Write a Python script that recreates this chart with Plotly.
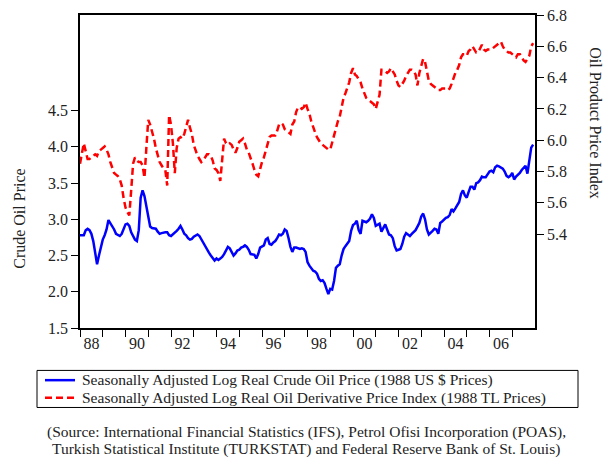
import plotly.graph_objects as go

# Monthly observations, January 1988 to December 2007
start_year = 1988
n_years = 20

crude_oil = [
    # 1988
    2.78, 2.78, 2.78, 2.85, 2.87, 2.85, 2.80, 2.70, 2.55, 2.38, 2.50, 2.63,
    # 1989
    2.72, 2.78, 2.86, 2.99, 2.95, 2.90, 2.86, 2.80, 2.78, 2.77, 2.80, 2.86,
    # 1990
    2.93, 2.94, 2.91, 2.82, 2.77, 2.72, 2.70, 2.85, 3.30, 3.40, 3.32, 3.18,
    # 1991
    3.05, 2.90, 2.88, 2.88, 2.87, 2.83, 2.80, 2.81, 2.82, 2.82, 2.82, 2.78,
    # 1992
    2.77, 2.79, 2.81, 2.84, 2.87, 2.91, 2.86, 2.80, 2.78, 2.74, 2.72, 2.73,
    # 1993
    2.76, 2.78, 2.79, 2.77, 2.72, 2.68, 2.63, 2.58, 2.54, 2.50, 2.47, 2.43,
    # 1994
    2.46, 2.44, 2.46, 2.48, 2.52, 2.57, 2.62, 2.60, 2.54, 2.50, 2.53, 2.57,
    # 1995
    2.58, 2.61, 2.62, 2.64, 2.62, 2.58, 2.52, 2.51, 2.51, 2.46, 2.52, 2.61,
    # 1996
    2.63, 2.64, 2.72, 2.74, 2.66, 2.65, 2.68, 2.70, 2.74, 2.79, 2.78, 2.80,
    # 1997
    2.86, 2.84, 2.74, 2.62, 2.55, 2.61, 2.61, 2.60, 2.59, 2.60, 2.59, 2.55,
    # 1998
    2.41, 2.36, 2.32, 2.29, 2.28, 2.25, 2.18, 2.15, 2.16, 2.12, 2.04, 1.97,
    # 1999
    2.04, 2.03, 2.15, 2.33, 2.36, 2.38, 2.50, 2.59, 2.63, 2.66, 2.70, 2.84,
    # 2000
    2.92, 2.94, 2.98, 2.85, 2.80, 2.98, 2.97, 2.96, 2.98, 3.01, 3.07, 3.02,
    # 2001
    2.91, 2.93, 2.94, 2.83, 2.88, 2.93, 2.86, 2.79, 2.78, 2.74, 2.63, 2.57,
    # 2002
    2.58, 2.59, 2.66, 2.76, 2.81, 2.79, 2.77, 2.80, 2.82, 2.85, 2.90, 2.95,
    # 2003
    3.04, 3.08, 3.00, 2.86, 2.79, 2.81, 2.84, 2.87, 2.86, 2.80, 2.95, 2.97,
    # 2004
    3.00, 3.02, 3.03, 3.06, 3.14, 3.11, 3.15, 3.20, 3.24, 3.35, 3.40, 3.33,
    # 2005
    3.30, 3.38, 3.45, 3.45, 3.41, 3.50, 3.51, 3.54, 3.59, 3.58, 3.58, 3.62,
    # 2006
    3.66, 3.67, 3.65, 3.72, 3.74, 3.73, 3.72, 3.70, 3.66, 3.60, 3.58, 3.60,
    # 2007
    3.64, 3.55, 3.59, 3.61, 3.64, 3.68, 3.71, 3.74, 3.63, 3.84, 3.99, 4.03,
]

oil_products = [
    # 1988
    5.85, 5.92, 5.98, 5.93, 5.88, 5.88, 5.89, 5.90, 5.91, 5.90, 5.93, 5.94,
    # 1989
    5.95, 5.96, 5.94, 5.91, 5.86, 5.82, 5.79, 5.78, 5.77, 5.75, 5.71, 5.63,
    # 1990
    5.57, 5.54, 5.52, 5.68, 5.85, 5.89, 5.87, 5.86, 5.86, 5.84, 5.76, 5.95,
    # 1991
    6.13, 6.10, 6.06, 6.01, 5.95, 5.90, 5.86, 5.84, 5.82, 5.81, 5.71, 6.16,
    # 1992
    6.10, 5.98, 5.79, 5.95, 6.01, 6.02, 6.01, 6.04, 6.09, 6.13, 6.08, 6.04,
    # 1993
    5.97, 5.93, 5.90, 5.88, 5.86, 5.87, 5.89, 5.91, 5.91, 5.90, 5.87, 5.82,
    # 1994
    5.81, 5.79, 5.74, 5.86, 6.01, 5.98, 5.97, 5.98, 5.97, 5.94, 5.92, 5.95,
    # 1995
    5.99, 6.00, 6.01, 5.98, 5.94, 5.92, 5.89, 5.85, 5.81, 5.78, 5.77, 5.82,
    # 1996
    5.86, 5.89, 5.94, 5.99, 6.02, 6.03, 6.03, 6.03, 6.06, 6.10, 6.11, 6.10,
    # 1997
    6.07, 6.06, 6.05, 6.04, 6.10, 6.12, 6.18, 6.21, 6.21, 6.20, 6.21, 6.24,
    # 1998
    6.20, 6.17, 6.12, 6.08, 6.05, 6.02, 6.00, 5.98, 5.97, 5.96, 5.95, 5.94,
    # 1999
    5.94, 5.99, 6.04, 6.09, 6.12, 6.15, 6.22, 6.27, 6.30, 6.33, 6.37, 6.43,
    # 2000
    6.46, 6.42, 6.41, 6.39, 6.37, 6.33, 6.30, 6.27, 6.26, 6.25, 6.24, 6.23,
    # 2001
    6.20, 6.25, 6.29, 6.45, 6.45, 6.44, 6.43, 6.44, 6.46, 6.44, 6.42, 6.38,
    # 2002
    6.35, 6.34, 6.36, 6.38, 6.41, 6.43, 6.45, 6.45, 6.44, 6.42, 6.35, 6.43,
    # 2003
    6.48, 6.52, 6.50, 6.44, 6.38, 6.36, 6.35, 6.34, 6.33, 6.32, 6.32, 6.33,
    # 2004
    6.33, 6.33, 6.32, 6.33, 6.36, 6.40, 6.43, 6.45, 6.48, 6.53, 6.55, 6.55,
    # 2005
    6.54, 6.57, 6.58, 6.60, 6.58, 6.56, 6.56, 6.59, 6.61, 6.58, 6.57, 6.58,
    # 2006
    6.58, 6.58, 6.59, 6.60, 6.61, 6.62, 6.63, 6.60, 6.58, 6.57, 6.56, 6.56,
    # 2007
    6.55, 6.54, 6.53, 6.55, 6.55, 6.53, 6.51, 6.50, 6.52, 6.54, 6.60, 6.62,
]

year_labels = ["88", "90", "92", "94", "96", "98", "00", "02", "04", "06"]
left_ticks = [1.5, 2.0, 2.5, 3.0, 3.5, 4.0, 4.5]
right_ticks = [5.4, 5.6, 5.8, 6.0, 6.2, 6.4, 6.6, 6.8]

crude_name = "Seasonally Adjusted Log Real Crude Oil Price (1988 US $ Prices)"
products_name = "Seasonally Adjusted Log Real Oil Derivative Price Index (1988 TL Prices)"
source_lines = [
    "(Source: International Financial Statistics (IFS), Petrol Ofisi Incorporation (POAS),",
    "Turkish Statistical Institute (TURKSTAT) and Federal Reserve Bank of St. Louis)",
]

CRUDE_COLOR = "#0000ff"
PRODUCT_COLOR = "#ff0000"
PRODUCT_DASH = "7px,4px"
FONT = "Liberation Serif"
INK = "#222222"

# figure geometry (pixels)
W, H = 605, 461
ML, MR, MT, MB = 80, 70, 7, 133
PW, PH = W - ML - MR, H - MT - MB


def px(x):
    """Horizontal pixel position -> paper coordinate."""
    return (x - ML) / PW


def py(y):
    """Vertical pixel position (from top) -> paper coordinate."""
    return (H - MB - y) / PH


# time axis in fractional years
t = [start_year + i / 12 for i in range(len(crude_oil))]
label_pos = [(1900 if int(s) >= 50 else 2000) + int(s) + 0.5 for s in year_labels]
year_ticks = list(range(start_year, start_year + n_years))

fig = go.Figure()
fig.add_trace(go.Scatter(
    x=t, y=crude_oil, name=crude_name, mode="lines",
    line=dict(color=CRUDE_COLOR, width=2.5),
    yaxis="y",
))
fig.add_trace(go.Scatter(
    x=t, y=oil_products, name=products_name, mode="lines",
    line=dict(color=PRODUCT_COLOR, width=2.5, dash=PRODUCT_DASH),
    yaxis="y2",
))

tick_font = dict(family=FONT, size=16, color=INK)
axis_common = dict(
    showline=True, linecolor="black", linewidth=1.5,
    ticks="outside", ticklen=7, tickcolor="black", tickwidth=1,
    showgrid=False, zeroline=False, tickfont=tick_font,
)

# legend: framed box with a line sample and label for each series
legend_rows = [
    (crude_name, CRUDE_COLOR, "solid", 381.5),
    (products_name, PRODUCT_COLOR, PRODUCT_DASH, 399.5),
]
shapes = [dict(type="rect", xref="paper", yref="paper",
               x0=px(37), x1=px(578), y0=py(371.5), y1=py(409.5),
               line=dict(color="black", width=1), fillcolor="white", layer="above")]
annotations = []
for label, color, dash, ypix in legend_rows:
    shapes.append(dict(type="line", xref="paper", yref="paper",
                       x0=px(45), x1=px(75), y0=py(ypix), y1=py(ypix),
                       line=dict(color=color, width=2.5, dash=dash), layer="above"))
    annotations.append(dict(text=label, xref="paper", yref="paper",
                            x=px(80), y=py(ypix), xanchor="left", yanchor="middle",
                            showarrow=False, font=dict(family=FONT, size=15.5, color=INK)))

# source note, one annotation per line
for line_text, ypix in zip(source_lines, [434.5, 452]):
    annotations.append(dict(text=line_text, xref="paper", yref="paper",
                            x=px(306), y=py(ypix), xanchor="center", yanchor="middle",
                            showarrow=False, font=dict(family=FONT, size=15.5, color=INK)))

# axis titles, centred on the labelled part of each axis
annotations.append(dict(text="Crude Oil Price", xref="paper", yref="paper",
                        x=px(20), y=py(216), xanchor="center", yanchor="middle",
                        textangle=-90, showarrow=False,
                        font=dict(family=FONT, size=16, color=INK)))
annotations.append(dict(text="Oil Product Price Index", xref="paper", yref="paper",
                        x=px(596), y=py(118), xanchor="center", yanchor="middle",
                        textangle=90, showarrow=False,
                        font=dict(family=FONT, size=16, color=INK)))

fig.update_layout(
    width=W, height=H,
    margin=dict(l=ML, r=MR, t=MT, b=MB),
    paper_bgcolor="white", plot_bgcolor="white",
    showlegend=False,
    font=dict(family=FONT, size=16, color=INK),
    xaxis=dict(
        range=[start_year, start_year + n_years],
        tickmode="array", tickvals=label_pos, ticktext=year_labels,
        showline=True, linecolor="black", linewidth=1.5, mirror=True,
        ticks="", showgrid=False, zeroline=False, tickfont=tick_font,
        minor=dict(tickmode="array", tickvals=year_ticks, ticks="outside",
                   ticklen=7, tickcolor="black", tickwidth=1, showgrid=False),
    ),
    yaxis=dict(
        range=[1.5, 5.82], tickmode="array", tickvals=left_ticks,
        ticktext=[f"{v:.1f}" for v in left_ticks],
        **axis_common,
    ),
    yaxis2=dict(
        range=[4.8, 6.8], tickmode="array", tickvals=right_ticks,
        ticktext=[f"{v:.1f}" for v in right_ticks],
        overlaying="y", side="right",
        **axis_common,
    ),
    shapes=shapes,
    annotations=annotations,
)

fig.write_html("out.html")
